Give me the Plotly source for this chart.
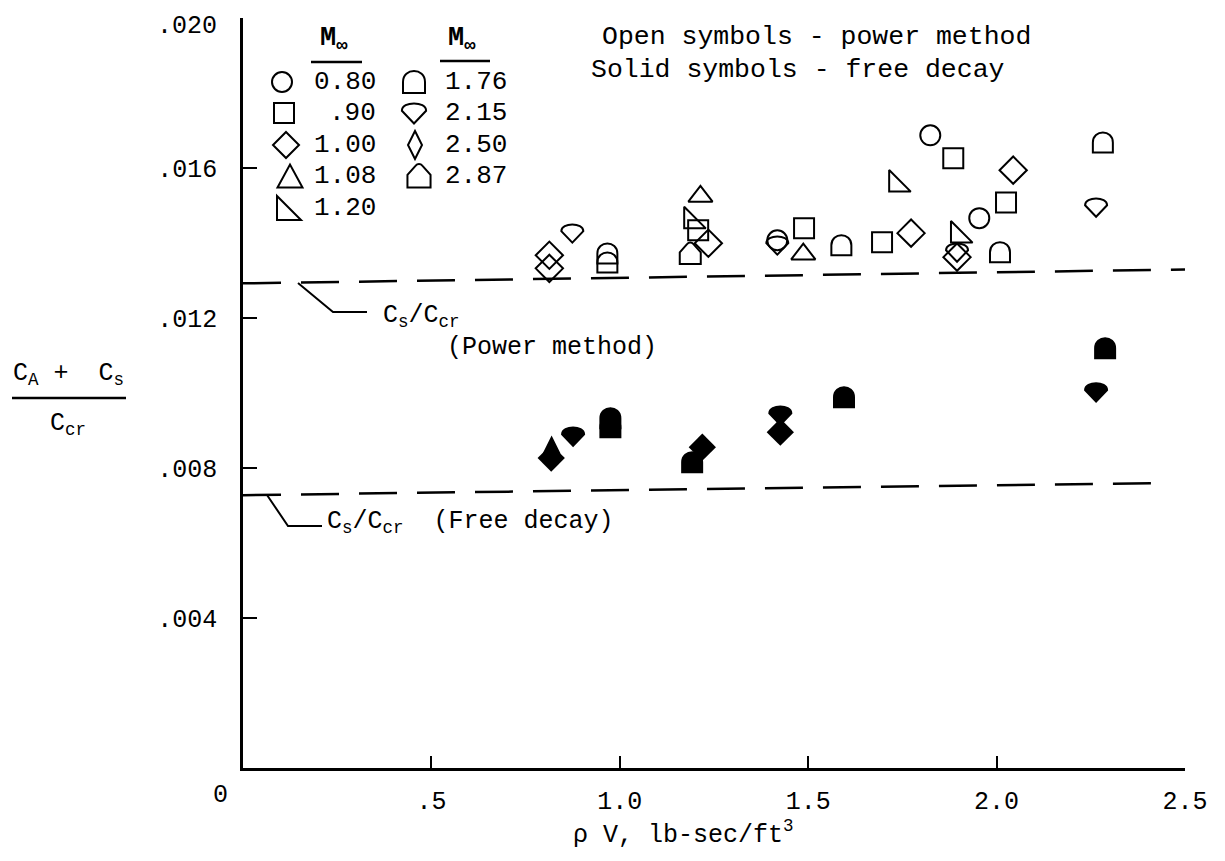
import plotly.graph_objects as go

# ---------------- data ----------------
# Open symbols - power method
m080_x = [1.824, 1.954, 1.418]
m080_y = [0.01688, 0.01467, 0.01408]
m090_x = [1.885, 2.025, 1.696, 1.489, 1.208]
m090_y = [0.01627, 0.01509, 0.01403, 0.01440, 0.01435]
m100_x = [2.044, 1.773, 0.813, 0.813, 1.235, 1.895]
m100_y = [0.01595, 0.01427, 0.01368, 0.01333, 0.01400, 0.01363]
m108_x = [1.214, 1.487]
m108_y = [0.01525, 0.01371]
m120_x = [1.734, 1.190, 1.898]
m120_y = [0.01557, 0.01459, 0.01421]
m176_x = [2.282, 1.588, 0.967, 0.967, 2.009]
m176_y = [0.01669, 0.01395, 0.01373, 0.01349, 0.01376]
m215_x = [2.264, 0.874, 1.418, 1.895]
m215_y = [0.01496, 0.01427, 0.01395, 0.01376]
m287_x = [1.187]
m287_y = [0.01373]

# Solid symbols - free decay
d100_x = [1.219, 1.426, 0.818]
d100_y = [0.00856, 0.00896, 0.00827]
d176_x = [0.975, 0.975, 1.595, 2.288, 1.192]
d176_y = [0.00933, 0.00909, 0.00989, 0.01120, 0.00816]
d215_x = [0.876, 1.426, 2.264]
d215_y = [0.00885, 0.00941, 0.01003]
d250_x = [0.819]
d250_y = [0.00840]

# Cs/Ccr reference lines
power_line_x = [0.0, 2.5]
power_line_y = [0.01293, 0.01330]
decay_line_x = [0.0, 2.42]
decay_line_y = [0.00728, 0.00760]

# axis ticks (the top label ".020" is drawn as a note so it stays inside the page)
x_tickvals = [0.5, 1.0, 1.5, 2.0, 2.5]
x_ticktext = [".5", "1.0", "1.5", "2.0", "2.5"]
y_tickvals = [0.004, 0.008, 0.012, 0.016, 0.020]
y_ticktext = [".004", ".008", ".012", ".016", ""]
y_top_label = ".020"

legend_col1 = ["0.80", ".90", "1.00", "1.08", "1.20"]
legend_col2 = ["1.76", "2.15", "2.50", "2.87"]

# ---------------- layout geometry ----------------
# the page body has an 8px margin, so the figure is laid out 8px in from the window edge
FONT = "Liberation Mono, Courier New, monospace"
FW, FH = 1209, 845
ML, MT = 235, 10            # figure margins -> plot area starts at page (243, 18)
PW, PH = 942, 750           # plot area size in pixels
MR = FW - ML - PW
MB = FH - MT - PH
X0_PAGE, Y0_PAGE = 243, 768  # page pixel of the axes origin
Y_TOP = 0.02001              # tiny headroom so the .020 tick is kept


def px2x(px):   # page pixel -> paper fraction
    return (px - X0_PAGE) / PW


def px2y(py):
    return (Y0_PAGE - py) / PH


# symbol outlines in pixels (y up), centred on anchor
def circle_path(r):
    k = 0.5523 * r
    return (f"M{r},0 C{r},{k} {k},{r} 0,{r} C{-k},{r} {-r},{k} {-r},0 "
            f"C{-r},{-k} {-k},{-r} 0,{-r} C{k},{-r} {r},{-k} {r},0 Z")


def sym_path(kind, s=1.0):
    if kind == "circle":
        return circle_path(10 * s)
    pts = {
        "square": "M-10,-10 L10,-10 L10,10 L-10,10 Z",
        "diamond": "M0,13 L13,0 L0,-13 L-13,0 Z",
        "triangle": "M-12.5,-11.5 L12.5,-11.5 L0,11.5 Z",
        "rtri": "M-12,12 L-12,-12 L12,-12 Z",
        "dome": "M-10,-10 L-10,0 C-10,13.3 10,13.3 10,0 L10,-10 Z",
        "d215": "M-11,2 C-11,11 11,11 11,2 L0,-9.5 Z",
        "d250": "M0,14 L7,0 L0,-14 L-7,0 Z",
        "house": "M-10.5,-10.5 L-10.5,1 L-3,9.5 C-1.5,11.3 1.5,11.3 3,9.5 L10.5,1 L10.5,-10.5 Z",
    }[kind]
    if s == 1.0:
        return pts
    out = []
    for tok in pts.split(" "):
        if tok == "Z":
            out.append(tok)
            continue
        cmd = tok[0] if tok[0].isalpha() else ""
        body = tok[1:] if cmd else tok
        a, b = body.split(",")
        out.append(f"{cmd}{float(a) * s:.2f},{float(b) * s:.2f}")
    return " ".join(out)


shapes = []
annotations = []


def data_symbols(xs, ys, kind, filled, s=1.0):
    for x, y in zip(xs, ys):
        shapes.append(dict(
            type="path", xref="x", yref="y", xsizemode="pixel", ysizemode="pixel",
            xanchor=x, yanchor=y, path=sym_path(kind, s),
            line=dict(color="black", width=2),
            fillcolor="black" if filled else "rgba(0,0,0,0)", layer="above"))


def legend_symbol(kind, px, py, s=1.0):
    shapes.append(dict(
        type="path", xref="paper", yref="paper", xsizemode="pixel", ysizemode="pixel",
        xanchor=px2x(px), yanchor=px2y(py), path=sym_path(kind, s),
        line=dict(color="black", width=2), fillcolor="rgba(0,0,0,0)", layer="above"))


def pline(points, width=2):
    path = "M" + " L".join(f"{px2x(a):.5f},{px2y(b):.5f}" for a, b in points)
    shapes.append(dict(type="path", xref="paper", yref="paper", path=path,
                       line=dict(color="black", width=width)))


def label(text, px, py, size=25, xanchor="center", yanchor="middle"):
    annotations.append(dict(
        text=text, x=px2x(px), y=px2y(py), xref="paper", yref="paper",
        showarrow=False, xanchor=xanchor, yanchor=yanchor,
        font=dict(family=FONT, size=size, color="black")))


fig = go.Figure()

# reference dashed lines
for lx, ly in ((power_line_x, power_line_y), (decay_line_x, decay_line_y)):
    fig.add_trace(go.Scatter(x=lx, y=ly, mode="lines", hoverinfo="skip",
                             line=dict(color="black", width=2.5, dash="38px,20px")))


def open_marker(sym, size):
    return dict(symbol=sym + "-open", size=size, color="black",
                line=dict(width=2, color="black"))


fig.add_trace(go.Scatter(x=m080_x, y=m080_y, mode="markers", name="0.80",
                         marker=open_marker("circle", 20)))
fig.add_trace(go.Scatter(x=m090_x, y=m090_y, mode="markers", name=".90",
                         marker=open_marker("square", 20)))
fig.add_trace(go.Scatter(x=m100_x, y=m100_y, mode="markers", name="1.00",
                         marker=open_marker("diamond", 21)))
fig.add_trace(go.Scatter(x=m108_x, y=m108_y, mode="markers", name="1.08",
                         marker=open_marker("triangle-up", 21)))
fig.add_trace(go.Scatter(x=m120_x, y=m120_y, mode="markers", name="1.20",
                         marker=open_marker("triangle-sw", 24)))
fig.add_trace(go.Scatter(x=d100_x, y=d100_y, mode="markers", name="1.00 decay",
                         marker=dict(symbol="diamond", size=21, color="black")))

# custom symbols: invisible carrier traces + outline shapes at the data points
for xs, ys, nm in ((m176_x, m176_y, "1.76"), (m215_x, m215_y, "2.15"),
                   (m287_x, m287_y, "2.87"), (d176_x, d176_y, "1.76 decay"),
                   (d215_x, d215_y, "2.15 decay"), (d250_x, d250_y, "2.50 decay")):
    fig.add_trace(go.Scatter(x=xs, y=ys, mode="markers", name=nm,
                             marker=dict(size=20, opacity=0)))

data_symbols(m176_x, m176_y, "dome", False)
data_symbols(m215_x, m215_y, "d215", False)
data_symbols(m287_x, m287_y, "house", False)
data_symbols(d176_x, d176_y, "dome", True)
data_symbols(d215_x, d215_y, "d215", True)
data_symbols(d250_x, d250_y, "d250", True, 1.1)

# ---------------- legend block ----------------
row_y = [82, 113, 145, 176, 208]
col1_sym = [("circle", 282), ("square", 284), ("diamond", 286), ("triangle", 290), ("rtri", 289)]
for (kind, sx), txt, ry in zip(col1_sym, legend_col1, row_y):
    legend_symbol(kind, sx, ry)
    label(txt, 378, ry, size=26, xanchor="right")
col2_sym = [("dome", 414), ("d215", 414), ("d250", 415), ("house", 419)]
for (kind, sx), txt, ry in zip(col2_sym, legend_col2, row_y):
    legend_symbol(kind, sx, ry, 1.1 if kind != "d250" else 1.0)
    label(txt, 443, ry, size=26, xanchor="left")

label("<b>M<sub>∞</sub></b>", 334, 40, size=27)
label("<b>M<sub>∞</sub></b>", 462, 40, size=27)
pline([(311, 62), (362, 62)], width=2.5)
pline([(440, 61), (490, 61)], width=2.5)

label("Open symbols - power method", 600, 37, size=26.5, xanchor="left")
label("Solid symbols - free decay", 589, 70, size=26.5, xanchor="left")

# leader lines and reference-line labels
pline([(298, 283), (333, 312), (367, 312)])
label("C<sub>s</sub>/C<sub>cr</sub>", 381, 316, size=25, xanchor="left")
label("(Power method)", 445, 348, size=25, xanchor="left")
pline([(267, 495), (288, 526), (322, 526)])
label("C<sub>s</sub>/C<sub>cr</sub>  (Free decay)", 325, 522, size=25, xanchor="left")

# y-axis title as a fraction
label("C<sub>A</sub> +  C<sub>s</sub>", 68, 374, size=25)
pline([(12, 398), (126, 398)], width=2.5)
label("C<sub>cr</sub>", 68, 424, size=25)

# top y tick label, x-axis title and origin label
label(y_top_label, 219, 10, size=25, xanchor="right", yanchor="top")
label("ρ V, lb-sec/ft<sup>3</sup>", 683, 833, size=25)
label("0", 220, 795, size=25)

fig.update_layout(
    width=FW, height=FH,
    margin=dict(l=ML, r=MR, t=MT, b=MB, autoexpand=False),
    paper_bgcolor="white", plot_bgcolor="white",
    showlegend=False,
    shapes=shapes, annotations=annotations,
    font=dict(family=FONT, size=25, color="black"),
    xaxis=dict(range=[0, 2.5], showline=True, linewidth=2.5, linecolor="black",
               ticks="inside", ticklen=12, tickwidth=2, tickcolor="black",
               tickvals=x_tickvals, ticktext=x_ticktext, ticklabelstandoff=8,
               ticklabeloverflow="allow", automargin=False,
               tickfont=dict(family=FONT, size=25, color="black"),
               showgrid=False, zeroline=False, fixedrange=True),
    yaxis=dict(range=[0, Y_TOP], showline=True, linewidth=2.5, linecolor="black",
               ticks="inside", ticklen=14, tickwidth=2, tickcolor="black",
               tickvals=y_tickvals, ticktext=y_ticktext, ticklabelstandoff=18,
               ticklabeloverflow="allow", automargin=False,
               tickfont=dict(family=FONT, size=25, color="black"),
               showgrid=False, zeroline=False, fixedrange=True),
)

fig.write_html("out.html")
